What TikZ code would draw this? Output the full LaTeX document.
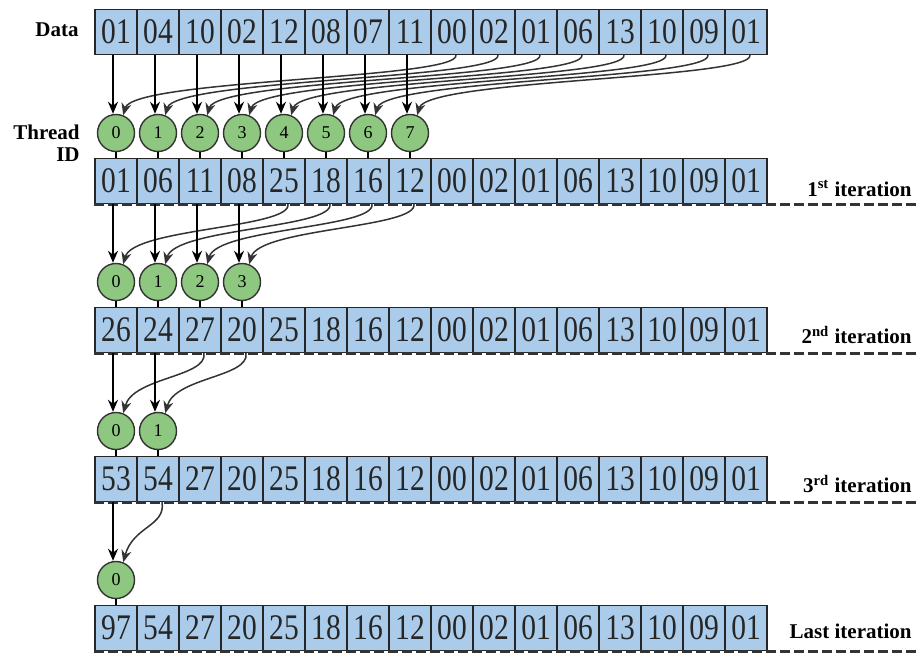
\documentclass[tikz,border=0pt]{standalone}
\usepackage{fontspec}
\setmainfont{Liberation Serif}
\usetikzlibrary{arrows.meta}
\definecolor{cellblue}{RGB}{170,204,234}
\definecolor{threadgreen}{RGB}{142,200,128}
\newcommand{\narrow}[1]{\scalebox{0.82}[1]{#1}}

\begin{document}
\begin{tikzpicture}[
        x=0.5pt, y=-0.5pt,
        >={Stealth[length=6pt,width=5pt]},
        cell/.style={draw=black!85, fill=cellblue, line width=0.6pt, minimum width=21pt, minimum height=22.5pt, inner sep=0pt, font=\fontsize{18}{20}\selectfont, text=black!85},
        thread/.style={draw=black!80, fill=threadgreen, circle, minimum size=18.5pt, inner sep=0pt, line width=0.7pt, font=\fontsize{9}{10}\selectfont},
        arr/.style={->, line width=0.9pt},
        carr/.style={->, line width=0.75pt, draw=black!80},
        link/.style={line width=0.6pt},
        dashline/.style={line width=1.4pt, black!80, dash pattern=on 5pt off 2pt},
        lab/.style={font=\fontsize{10.5}{11}\selectfont\bfseries, inner sep=0pt, align=right}
    ]
    \useasboundingbox (0,0) rectangle (919,652);
    \coordinate (rightedge) at (919,0);

    % Data rows
    \foreach \v [count=\i] in {01,04,10,02,12,08,07,11,00,02,01,06,13,10,09,01}
        \node[cell] (r0-\i) at ({95+42*(\i-0.5)},32) {\narrow{\v}};
    \foreach \v [count=\i] in {01,06,11,08,25,18,16,12,00,02,01,06,13,10,09,01}
        \node[cell] (r1-\i) at ({95+42*(\i-0.5)},181) {\narrow{\v}};
    \foreach \v [count=\i] in {26,24,27,20,25,18,16,12,00,02,01,06,13,10,09,01}
        \node[cell] (r2-\i) at ({95+42*(\i-0.5)},330) {\narrow{\v}};
    \foreach \v [count=\i] in {53,54,27,20,25,18,16,12,00,02,01,06,13,10,09,01}
        \node[cell] (r3-\i) at ({95+42*(\i-0.5)},479) {\narrow{\v}};
    \foreach \v [count=\i] in {97,54,27,20,25,18,16,12,00,02,01,06,13,10,09,01}
        \node[cell] (r4-\i) at ({95+42*(\i-0.5)},628) {\narrow{\v}};

    % Iteration separators
    \foreach \k in {1,...,4}
        \draw[dashline] (r\k-1.south west) -- (r\k-1.south west -| rightedge);

    % Threads and their inputs
    \foreach \k/\p/\n/\y in {1/0/8/133, 2/1/4/282, 3/2/2/431, 4/3/1/580} {
        \foreach \i [evaluate=\i as \j using int(\i+\n), evaluate=\i as \t using int(\i-1)] in {1,...,\n} {
            \node[thread] (t\k-\i) at ({95+42*(\i-0.5)},\y) {\t};
            \draw[arr] ([xshift=-1.5pt]r\p-\i.south) -- ([xshift=-1.5pt]t\k-\i.north);
            \draw[carr] ([xshift=2pt]r\p-\j.south) .. controls +(4,24) and +(10,-36) .. (t\k-\i.68);
            \draw[link] (t\k-\i.south) -- (r\k-\i.north);
        }
    }

    % Labels
    \node[lab, anchor=east] (data) at (79,30) {Data};
    \node[lab, anchor=east] (tid) at (80,143) {Thread\\ID};
    \node[lab, anchor=east] (it1) at (912,188) {1\textsuperscript{st} iteration};
    \node[lab, anchor=east] (it2) at (912,335) {2\textsuperscript{nd} iteration};
    \node[lab, anchor=east] (it3) at (912,484) {3\textsuperscript{rd} iteration};
    \node[lab, anchor=east] (it4) at (912,631) {Last iteration};

\end{tikzpicture}
\end{document}
